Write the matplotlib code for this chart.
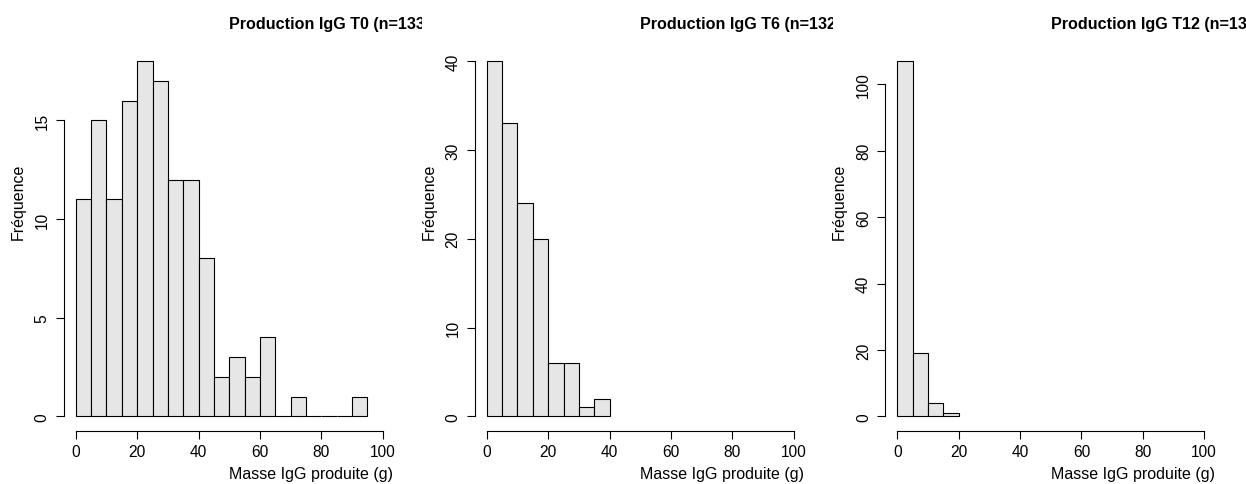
#!/usr/bin/env python3

from matplotlib import pyplot as plt
from matplotlib.transforms import Bbox

plt.rcParams['font.family'] = ['Liberation Sans', 'DejaVu Sans']

# histogram data, bins of width 5 starting at 0
t0_counts = [11, 15, 11, 16, 18, 17, 12, 12, 8, 2, 3, 2, 4, 0, 1, 0, 0, 0, 1]
t6_counts = [40, 33, 24, 20, 6, 6, 1, 2]
t12_counts = [107, 19, 4, 1]
bin_width = 5

titles = ['Production IgG T0 (n=133)', 'Production IgG T6 (n=132)', 'Production IgG T12 (n=131)']
y_ticks = [[0, 5, 10, 15], [0, 10, 20, 30, 40], [0, 20, 40, 60, 80, 100]]
x_ticks = [0, 20, 40, 60, 80, 100]
xlabel = 'Masse IgG produite (g)'
ylabel = 'Fréquence'

W, H = 1246, 485
fig = plt.figure(figsize=(W / 100, H / 100), dpi=100)

lefts = [63.5, 474.5, 885.0]
plot_w = 331.5
top, bottom = 48.0, 431.5
clip_x = [(0, 422), (422, 833), (833, 1246)]
fs = 11.2

for i, counts in enumerate([t0_counts, t6_counts, t12_counts]):
    ax = fig.add_axes([lefts[i] / W, (H - bottom) / H, plot_w / W, (bottom - top) / H])
    edges = [k * bin_width for k in range(len(counts))]
    ax.bar(edges, counts, width=bin_width, align='edge',
           color='#e6e6e6', edgecolor='black', linewidth=0.8)

    ymax = max(counts)
    ax.set_xlim(-4, 104)
    ax.set_ylim(-0.04 * ymax, 1.04 * ymax)

    for s in ['top', 'right']:
        ax.spines[s].set_visible(False)
    ax.spines['left'].set_bounds(y_ticks[i][0], y_ticks[i][-1])
    ax.spines['bottom'].set_bounds(0, 100)
    ax.spines['left'].set_linewidth(0.8)
    ax.spines['bottom'].set_linewidth(0.8)

    ax.set_xticks(x_ticks)
    ax.set_yticks(y_ticks[i])
    ax.tick_params(axis='both', direction='out', length=6, width=0.8, labelsize=fs)
    ax.tick_params(axis='x', pad=4)
    ax.tick_params(axis='y', pad=4)
    for lab in ax.get_yticklabels():
        lab.set_rotation(90)
        lab.set_va('center')

    # R-style labels starting from the plot centre
    ax.text(0.5, -0.113, xlabel, transform=ax.transAxes, ha='left', va='center',
            fontsize=11.5)
    ax.text(-0.137, 0.5, ylabel, transform=ax.transAxes, ha='left', va='center',
            rotation=90, rotation_mode='anchor', fontsize=11.5)

    # titles run past the panel and get cut, as in the original
    t = fig.text((lefts[i] + plot_w / 2) / W, 1 - 24 / H, titles[i], ha='left', va='center',
                 fontsize=11.6, fontweight='bold')
    x0, x1 = clip_x[i]
    t.set_clip_box(Bbox.from_extents(x0, 0, x1, H))
    t.set_clip_on(True)

plt.savefig('out.png', dpi=100)
